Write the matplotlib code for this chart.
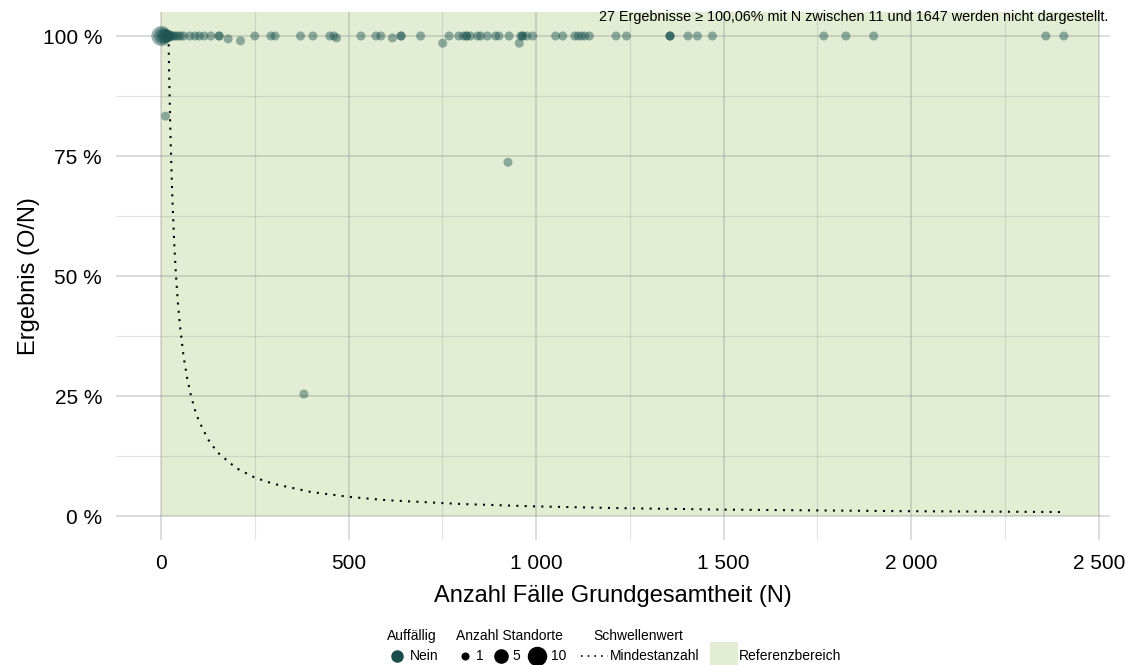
import matplotlib
matplotlib.use("Agg")
import matplotlib.pyplot as plt
from matplotlib.patches import Rectangle
from matplotlib.lines import Line2D
from matplotlib.ticker import FuncFormatter, MultipleLocator

plt.rcParams['font.family'] = ['Liberation Sans', 'DejaVu Sans']

# cases (N), result in %, number of sites
n_cases = [1, 4, 7, 10, 13, 16, 19, 22, 26, 30, 35, 40, 46, 52, 60, 77, 91, 102, 115, 133,
           155, 155, 179, 212, 250, 293, 304, 372, 405, 450, 461, 468, 533, 573, 586, 617,
           640, 640, 692, 751, 768, 794, 806, 815, 815, 825, 844, 852, 870, 892, 901, 928,
           955, 959, 964, 964, 975, 991, 1052, 1071, 1103, 1112, 1121, 1130, 1142, 1213, 1241,
           1357, 1357, 1357, 1405, 1430, 1470, 1767, 1826, 1900, 2359, 2407,
           12, 925, 381]
result_pct = [100, 100, 100, 100, 100, 100, 100, 100, 100, 100, 100, 100, 100, 100, 100, 100, 100, 100, 100, 100,
              100, 100, 99.4, 99.0, 100, 100, 100, 100, 100, 100, 100, 99.6, 100, 100, 100, 99.6,
              100, 100, 100, 98.5, 100, 100, 100, 100, 100, 100, 100, 100, 100, 100, 100, 100,
              98.5, 100, 100, 100, 100, 100, 100, 100, 100, 100, 100, 100, 100, 100, 100,
              100, 100, 100, 100, 100, 100, 100, 100, 100, 100, 100,
              83.3, 73.7, 25.4]
n_sites = [10, 6, 4, 3, 3, 2, 2, 2, 1, 1, 1, 1, 1, 1, 1, 1, 1, 1, 1, 1,
           1, 1, 1, 1, 1, 1, 1, 1, 1, 1, 1, 1, 1, 1, 1, 1,
           1, 1, 1, 1, 1, 1, 1, 1, 1, 1, 1, 1, 1, 1, 1, 1,
           1, 1, 1, 1, 1, 1, 1, 1, 1, 1, 1, 1, 1, 1, 1,
           1, 1, 1, 1, 1, 1, 1, 1, 1, 1, 1,
           1, 1, 1]

# threshold curve "Mindestanzahl"
thr_n = [20, 22, 25, 30, 35, 40, 45, 50, 60, 70, 80, 90, 100, 125, 150, 200, 250, 300,
         400, 500, 600, 800, 1000, 1250, 1500, 2000, 2400]
thr_pct = [100, 90.9, 80, 66.7, 57.1, 50, 44.4, 40, 33.3, 28.6, 25, 22.2, 20, 16, 13.3, 10, 8, 6.7,
           5, 4, 3.3, 2.5, 2, 1.6, 1.33, 1, 0.83]

note = "27 Ergebnisse \u2265 100,06% mit N zwischen 11 und 1647 werden nicht dargestellt."

POINT_COL = '#1d5553'
REF_COL = '#e2edd3'


def marker_pt(s):
    return 6.5 * s ** 0.345


fig = plt.figure(figsize=(11.26, 6.65), dpi=100)
ax = fig.add_axes([116 / 1126, 125 / 665, (1110 - 116) / 1126, (540 - 12) / 665])

ax.set_xlim(-120, 2530)
ax.set_ylim(-5, 105)
ax.add_patch(Rectangle((0, 0), 2500, 110, facecolor=REF_COL, edgecolor='none', zorder=0.2))

ax.xaxis.set_major_locator(MultipleLocator(500))
ax.xaxis.set_minor_locator(MultipleLocator(250))
ax.yaxis.set_major_locator(MultipleLocator(25))
ax.yaxis.set_minor_locator(MultipleLocator(12.5))
ax.grid(True, which='major', color='#8a8a8a', alpha=0.3, linewidth=1.4, zorder=0.5)
ax.grid(True, which='minor', color='#8a8a8a', alpha=0.24, linewidth=0.8, zorder=0.5)
ax.set_axisbelow(True)
for sp in ax.spines.values():
    sp.set_visible(False)
ax.tick_params(which='both', length=0, labelsize=15)
ax.tick_params(axis='x', pad=10)
ax.tick_params(axis='y', pad=10)
ax.xaxis.set_major_formatter(FuncFormatter(lambda v, p: f"{int(v):,}".replace(',', ' ')))
ax.yaxis.set_major_formatter(FuncFormatter(lambda v, p: f"{int(v)} %"))

ax.plot(thr_n, thr_pct, color='black', linestyle=(0, (1, 3)), linewidth=1.5, zorder=2)
ax.scatter(n_cases, result_pct, s=[marker_pt(s) ** 2 for s in n_sites],
           color=POINT_COL, alpha=0.45, edgecolors='none', zorder=3)

ax.set_xlabel("Anzahl F\u00e4lle Grundgesamtheit (N)", fontsize=17, labelpad=9)
ax.set_ylabel("Ergebnis (O/N)", fontsize=17, labelpad=2)
ax.text(2525, 105.5, note, ha='right', va='top', fontsize=10.4)

# legend drawn in pixel coordinates
lg = fig.add_axes([0, 0, 1, 1], facecolor='none')
lg.set_xlim(0, 1126)
lg.set_ylim(665, 0)
lg.axis('off')
fs = 10
lg.text(387, 636, "Auff\u00e4llig", fontsize=fs, va='center')
lg.add_line(Line2D([397], [656], marker='o', color='#1a4d4c', markersize=8, linestyle='none'))
lg.text(410, 656, "Nein", fontsize=fs, va='center')

lg.text(456, 636, "Anzahl Standorte", fontsize=fs, va='center')
for x, d, lbl in [(465, 4.8, "1"), (501, 9.5, "5"), (537, 13, "10")]:
    lg.add_line(Line2D([x], [656], marker='o', color='black', markersize=d, linestyle='none'))
    lg.text(x + (15 if lbl != "10" else 14), 656, lbl, fontsize=fs, va='center', ha='center' if lbl != "10" else 'left')

lg.text(593, 636, "Schwellenwert", fontsize=fs, va='center')
lg.add_line(Line2D([581, 608], [656, 656], color='black', linestyle=(0, (1, 3)), linewidth=1.2))
lg.text(610, 656, "Mindestanzahl", fontsize=fs, va='center')

lg.add_patch(Rectangle((710, 642), 28, 23, facecolor=REF_COL, edgecolor='none'))
lg.text(739, 656, "Referenzbereich", fontsize=fs, va='center')

fig.savefig("out.png", dpi=100)
